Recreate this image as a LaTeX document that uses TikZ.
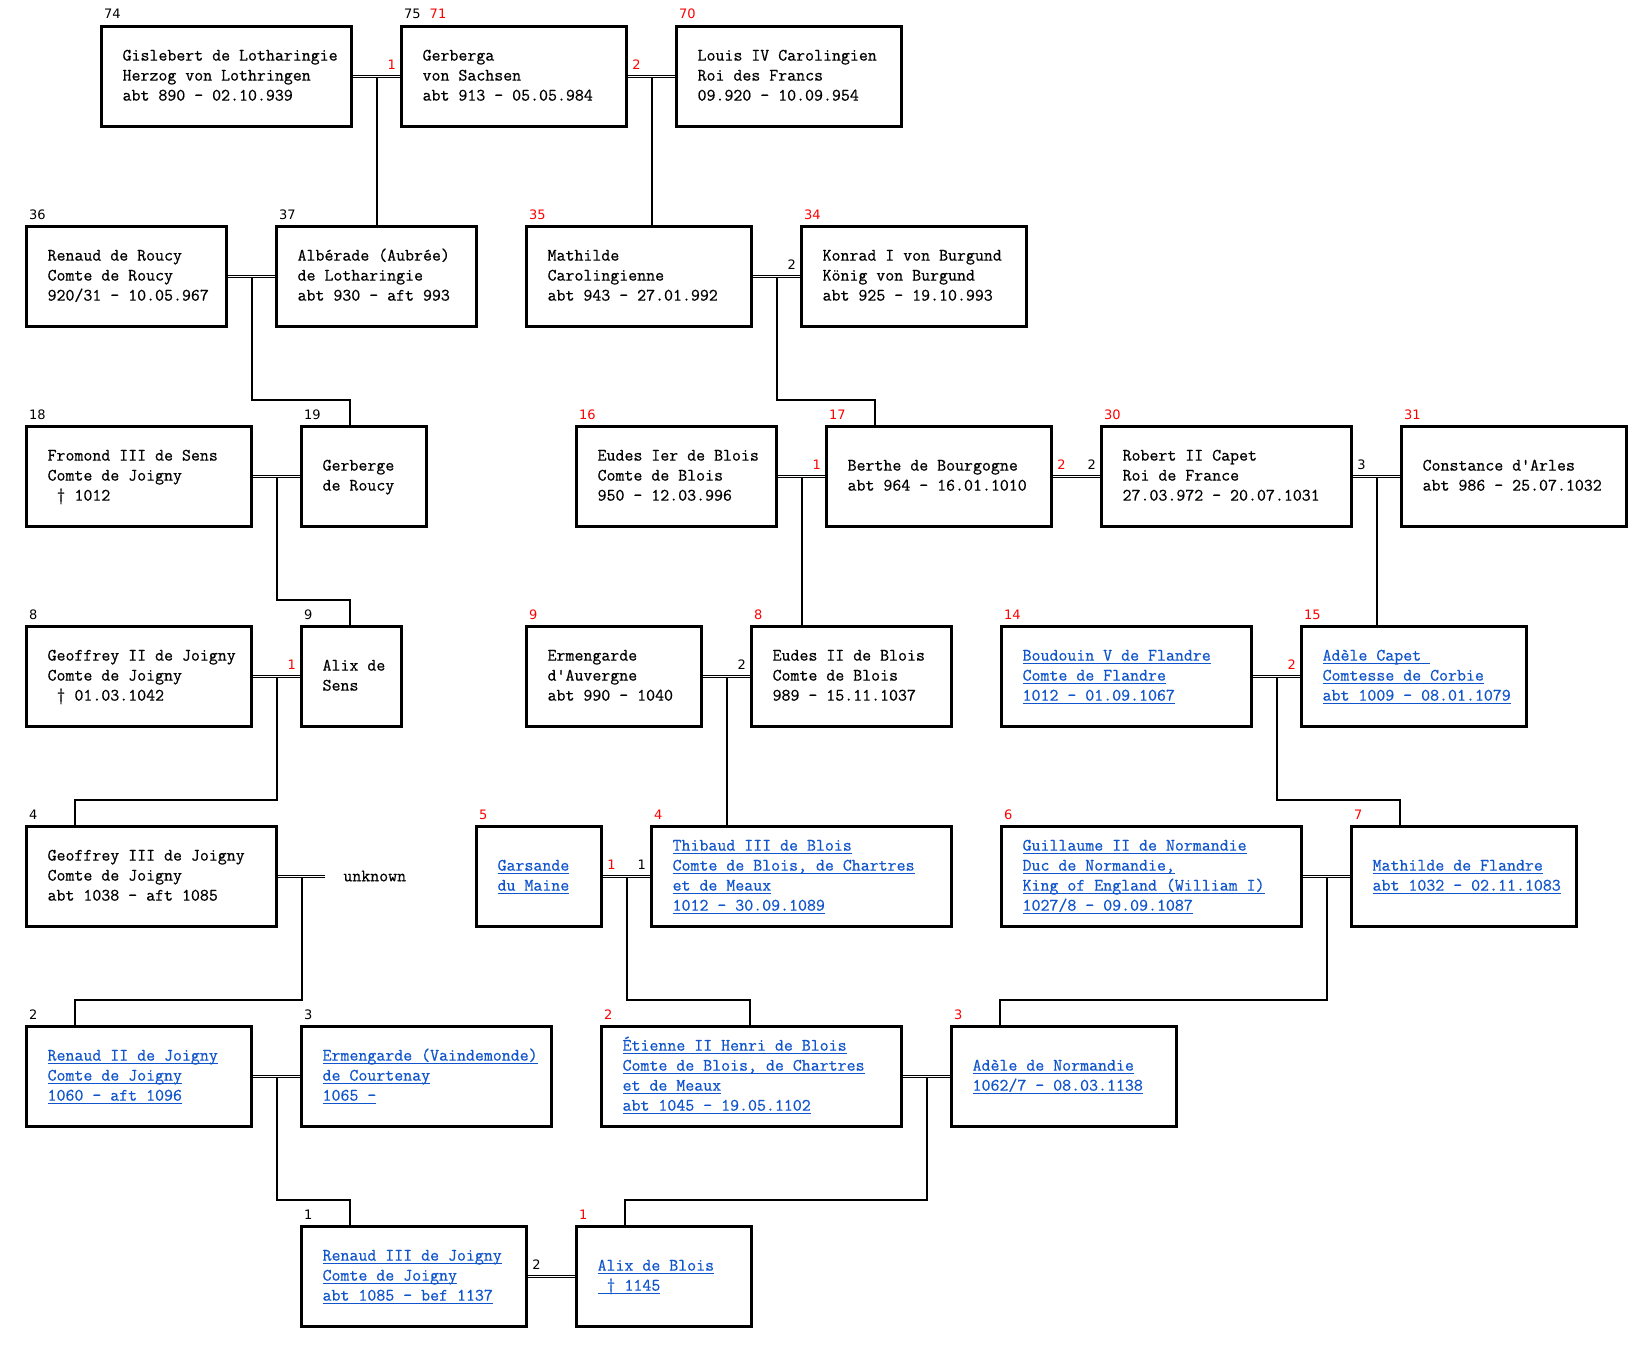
\documentclass[tikz,border=0pt]{standalone}
\usepackage{fontspec}
\newfontfamily\lblfont{DejaVu Sans}
\newfontfamily\monofam{lmmono12-regular.otf}[FakeBold=0.6]
\usetikzlibrary{calc,backgrounds}
\definecolor{lnk}{RGB}{17,85,204}
\definecolor{rd}{RGB}{255,0,0}
\newcommand\boxfont{\monofam\fontsize{17.4}{20}\selectfont}
\newsavebox\ulbox
\newcommand\lk[1]{\sbox\ulbox{\color{lnk}#1}\rlap{\color{lnk}\rule[-3.6pt]{\wd\ulbox}{1.2pt}}\usebox\ulbox}
\newcommand\bx[2]{\makebox[#1][l]{\hspace*{21pt}\begin{tabular}{@{}l@{}}#2\end{tabular}}}
\begin{document}
\begin{tikzpicture}[x=1pt,y=-1pt,
  pbox/.style={draw, line width=3.2pt, anchor=north west, inner sep=0pt, minimum height=100pt, font=\boxfont},
  glab/.style={font=\lblfont\fontsize{13}{13}\selectfont, inner sep=0pt, anchor=base west},
  mlab/.style={font=\lblfont\fontsize{13}{13}\selectfont, inner sep=0pt},
  conn/.style={line width=2pt},
  marr/.style={double, double distance=1.1pt, line width=1pt}]
\useasboundingbox (0,0) rectangle (1651,1351);
% ---------------- row 1
\node[pbox] (n74) at (100,25) {\bx{250pt}{Gislebert de Lotharingie\\Herzog von Lothringen\\abt 890 - 02.10.939}};
\node[pbox] (n75) at (400,25) {\bx{225pt}{Gerberga\\von Sachsen\\abt 913 - 05.05.984}};
\node[pbox] (n70) at (675,25) {\bx{225pt}{Louis IV Carolingien\\Roi des Francs\\09.920 - 10.09.954}};
% ---------------- row 2
\node[pbox] (n36) at (25,225) {\bx{200pt}{Renaud de Roucy\\Comte de Roucy\\920/31 - 10.05.967}};
\node[pbox] (n37) at (275,225) {\bx{200pt}{Albérade (Aubrée)\\de Lotharingie\\abt 930 - aft 993}};
\node[pbox] (n35) at (525,225) {\bx{225pt}{Mathilde\\Carolingienne\\abt 943 - 27.01.992}};
\node[pbox] (n34) at (800,225) {\bx{225pt}{Konrad I von Burgund\\König von Burgund\\abt 925 - 19.10.993}};
% ---------------- row 3
\node[pbox] (n18) at (25,425) {\bx{225pt}{Fromond III de Sens\\Comte de Joigny\\\ † 1012}};
\node[pbox] (n19) at (300,425) {\bx{125pt}{Gerberge\\de Roucy}};
\node[pbox] (n16) at (575,425) {\bx{200pt}{Eudes Ier de Blois\\Comte de Blois\\950 - 12.03.996}};
\node[pbox] (n17) at (825,425) {\bx{225pt}{Berthe de Bourgogne\\abt 964 - 16.01.1010}};
\node[pbox] (n30) at (1100,425) {\bx{250pt}{Robert II Capet\\Roi de France\\27.03.972 - 20.07.1031}};
\node[pbox] (n31) at (1400,425) {\bx{225pt}{Constance d\textquotesingle Arles\\abt 986 - 25.07.1032}};
% ---------------- row 4
\node[pbox] (n8) at (25,625) {\bx{225pt}{Geoffrey II de Joigny\\Comte de Joigny\\\ † 01.03.1042}};
\node[pbox] (n9) at (300,625) {\bx{100pt}{Alix de\\Sens}};
\node[pbox] (r9) at (525,625) {\bx{175pt}{Ermengarde\\d\textquotesingle Auvergne\\abt 990 - 1040}};
\node[pbox] (r8) at (750,625) {\bx{200pt}{Eudes II de Blois\\Comte de Blois\\989 - 15.11.1037}};
\node[pbox] (r14) at (1000,625) {\bx{250pt}{\lk{Boudouin V de Flandre}\\\lk{Comte de Flandre}\\\lk{1012 - 01.09.1067}}};
\node[pbox] (r15) at (1300,625) {\bx{225pt}{\lk{Adèle Capet\ }\\\lk{Comtesse de Corbie}\\\lk{abt 1009 - 08.01.1079}}};
% ---------------- row 5
\node[pbox] (n4) at (25,825) {\bx{250pt}{Geoffrey III de Joigny\\Comte de Joigny\\abt 1038 - aft 1085}};
\coordinate (u) at ([xshift=47pt]n4.east);
\node[font=\boxfont, inner sep=0pt, anchor=base west] (unk) at ([xshift=18pt,yshift=-4.7pt]u) {unknown};
\node[pbox] (r5) at (475,825) {\bx{125pt}{\lk{Garsande}\\\lk{du Maine}}};
\node[pbox] (r4) at (650,825) {\bx{300pt}{\lk{Thibaud III de Blois}\\\lk{Comte de Blois, de Chartres}\\\lk{et de Meaux}\\\lk{1012 - 30.09.1089}}};
\node[pbox] (r6) at (1000,825) {\bx{300pt}{\lk{Guillaume II de Normandie}\\\lk{Duc de Normandie,}\\\lk{King of England (William I)}\\\lk{1027/8 - 09.09.1087}}};
\node[pbox] (r7) at (1350,825) {\bx{225pt}{\lk{Mathilde de Flandre}\\\lk{abt 1032 - 02.11.1083}}};
% ---------------- row 6
\node[pbox] (n2) at (25,1025) {\bx{225pt}{\lk{Renaud II de Joigny}\\\lk{Comte de Joigny}\\\lk{1060 - aft 1096}}};
\node[pbox] (n3) at (300,1025) {\bx{250pt}{\lk{Ermengarde (Vaindemonde)}\\\lk{de Courtenay}\\\lk{1065 -}}};
\node[pbox] (r2) at (600,1025) {\bx{300pt}{\lk{Étienne II Henri de Blois}\\\lk{Comte de Blois, de Chartres}\\\lk{et de Meaux}\\\lk{abt 1045 - 19.05.1102}}};
\node[pbox] (r3) at (950,1025) {\bx{225pt}{\lk{Adèle de Normandie}\\\lk{1062/7 - 08.03.1138}}};
% ---------------- row 7
\node[pbox] (n1) at (300,1225) {\bx{225pt}{\lk{Renaud III de Joigny}\\\lk{Comte de Joigny}\\\lk{abt 1085 - bef 1137}}};
\node[pbox] (r1) at (575,1225) {\bx{175pt}{\lk{Alix de Blois}\\\lk{\ † 1145}}};
% ---------------- generation labels
\node[glab] (g74) at ([xshift=4pt,yshift=6pt]n74.north west) {74};
\node[glab] (g75) at ([xshift=4pt,yshift=6pt]n75.north west) {75\hspace{9pt}\textcolor{rd}{71}};
\node[glab,text=rd] (g70) at ([xshift=4pt,yshift=6pt]n70.north west) {70};
\node[glab] (g36) at ([xshift=4pt,yshift=6pt]n36.north west) {36};
\node[glab] (g37) at ([xshift=4pt,yshift=6pt]n37.north west) {37};
\node[glab,text=rd] (g35) at ([xshift=4pt,yshift=6pt]n35.north west) {35};
\node[glab,text=rd] (g34) at ([xshift=4pt,yshift=6pt]n34.north west) {34};
\node[glab] (g18) at ([xshift=4pt,yshift=6pt]n18.north west) {18};
\node[glab] (g19) at ([xshift=4pt,yshift=6pt]n19.north west) {19};
\node[glab,text=rd] (g16) at ([xshift=4pt,yshift=6pt]n16.north west) {16};
\node[glab,text=rd] (g17) at ([xshift=4pt,yshift=6pt]n17.north west) {17};
\node[glab,text=rd] (g30) at ([xshift=4pt,yshift=6pt]n30.north west) {30};
\node[glab,text=rd] (g31) at ([xshift=4pt,yshift=6pt]n31.north west) {31};
\node[glab] (g8) at ([xshift=4pt,yshift=6pt]n8.north west) {8};
\node[glab] (g9) at ([xshift=4pt,yshift=6pt]n9.north west) {9};
\node[glab,text=rd] (gr9) at ([xshift=4pt,yshift=6pt]r9.north west) {9};
\node[glab,text=rd] (gr8) at ([xshift=4pt,yshift=6pt]r8.north west) {8};
\node[glab,text=rd] (gr14) at ([xshift=4pt,yshift=6pt]r14.north west) {14};
\node[glab,text=rd] (gr15) at ([xshift=4pt,yshift=6pt]r15.north west) {15};
\node[glab] (g4) at ([xshift=4pt,yshift=6pt]n4.north west) {4};
\node[glab,text=rd] (gr5) at ([xshift=4pt,yshift=6pt]r5.north west) {5};
\node[glab,text=rd] (gr4) at ([xshift=4pt,yshift=6pt]r4.north west) {4};
\node[glab,text=rd] (gr6) at ([xshift=4pt,yshift=6pt]r6.north west) {6};
\node[glab,text=rd] (gr7) at ([xshift=4pt,yshift=6pt]r7.north west) {7};
\node[glab] (g2) at ([xshift=4pt,yshift=6pt]n2.north west) {2};
\node[glab] (g3) at ([xshift=4pt,yshift=6pt]n3.north west) {3};
\node[glab,text=rd] (gr2) at ([xshift=4pt,yshift=6pt]r2.north west) {2};
\node[glab,text=rd] (gr3) at ([xshift=4pt,yshift=6pt]r3.north west) {3};
\node[glab] (g1) at ([xshift=4pt,yshift=6pt]n1.north west) {1};
\node[glab,text=rd] (gr1) at ([xshift=4pt,yshift=6pt]r1.north west) {1};
% ---------------- marriage numbers
\node[mlab,text=rd,anchor=base east] (ma1) at ([xshift=-4pt,yshift=7pt]n75.west) {1};
\node[mlab,text=rd,anchor=base west] (ma2) at ([xshift=4pt,yshift=7pt]n75.east) {2};
\node[mlab,anchor=base east] (ma3) at ([xshift=-4pt,yshift=7pt]n34.west) {2};
\node[mlab,text=rd,anchor=base east] (ma4) at ([xshift=-4pt,yshift=7pt]n17.west) {1};
\node[mlab,text=rd,anchor=base west] (ma5) at ([xshift=4pt,yshift=7pt]n17.east) {2};
\node[mlab,anchor=base east] (ma6) at ([xshift=-4pt,yshift=7pt]n30.west) {2};
\node[mlab,anchor=base west] (ma7) at ([xshift=4pt,yshift=7pt]n30.east) {3};
\node[mlab,text=rd,anchor=base east] (ma8) at ([xshift=-4pt,yshift=7pt]n9.west) {1};
\node[mlab,anchor=base east] (ma9) at ([xshift=-4pt,yshift=7pt]r8.west) {2};
\node[mlab,text=rd,anchor=base east] (ma10) at ([xshift=-4pt,yshift=7pt]r15.west) {2};
\node[mlab,text=rd,anchor=base west] (ma11) at ([xshift=4pt,yshift=7pt]r5.east) {1};
\node[mlab,anchor=base east] (ma12) at ([xshift=-4pt,yshift=7pt]r4.west) {1};
\node[mlab,anchor=base west] (ma13) at ([xshift=4pt,yshift=7pt]n1.east) {2};
% ---------------- connectors (behind boxes)
\begin{pgfonlayer}{background}
\fill[white] (0,0) rectangle (1651,1351);
\coordinate (m1) at ($(n74.east)!0.5!(n75.west)$);
\coordinate (m2) at ($(n75.east)!0.5!(n70.west)$);
\coordinate (m3) at ($(n36.east)!0.5!(n37.west)$);
\coordinate (m4) at ($(n35.east)!0.5!(n34.west)$);
\coordinate (m5) at ($(n18.east)!0.5!(n19.west)$);
\coordinate (m6) at ($(n16.east)!0.5!(n17.west)$);
\coordinate (m7) at ($(n30.east)!0.5!(n31.west)$);
\coordinate (m8) at ($(n8.east)!0.5!(n9.west)$);
\coordinate (m9) at ($(r9.east)!0.5!(r8.west)$);
\coordinate (m10) at ($(r14.east)!0.5!(r15.west)$);
\coordinate (m11) at ($(n4.east)!0.5!(u)$);
\coordinate (m12) at ($(r5.east)!0.5!(r4.west)$);
\coordinate (m13) at ($(r6.east)!0.5!(r7.west)$);
\coordinate (m14) at ($(n2.east)!0.5!(n3.west)$);
\coordinate (m15) at ($(r2.east)!0.5!(r3.west)$);
% descenders
\draw[conn] (m1) -- (m1 |- n37.north);
\draw[conn] (m2) -- (m2 |- n35.north);
\draw[conn] (m3) |- ([xshift=50pt,yshift=25pt]n19.north west) -- ([xshift=50pt]n19.north west);
\draw[conn] (m4) |- ([xshift=50pt,yshift=25pt]n17.north west) -- ([xshift=50pt]n17.north west);
\draw[conn] (m5) |- ([xshift=50pt,yshift=25pt]n9.north west) -- ([xshift=50pt]n9.north west);
\draw[conn] (m6) -- (m6 |- r8.north);
\draw[conn] (m7) -- (m7 |- r15.north);
\draw[conn] (m8) |- ([xshift=50pt,yshift=25pt]n4.north west) -- ([xshift=50pt]n4.north west);
\draw[conn] (m9) -- (m9 |- r4.north);
\draw[conn] (m10) |- ([xshift=50pt,yshift=25pt]r7.north west) -- ([xshift=50pt]r7.north west);
\draw[conn] (m11) |- ([xshift=50pt,yshift=25pt]n2.north west) -- ([xshift=50pt]n2.north west);
\draw[conn] (m12) |- ([xshift=150pt,yshift=25pt]r2.north west) -- ([xshift=150pt]r2.north west);
\draw[conn] (m13) |- ([xshift=50pt,yshift=25pt]r3.north west) -- ([xshift=50pt]r3.north west);
\draw[conn] (m14) |- ([xshift=50pt,yshift=25pt]n1.north west) -- ([xshift=50pt]n1.north west);
\draw[conn] (m15) |- ([xshift=50pt,yshift=25pt]r1.north west) -- ([xshift=50pt]r1.north west);
% marriage double lines
\draw[marr] (n74.east) -- (n75.west);
\draw[marr] (n75.east) -- (n70.west);
\draw[marr] (n36.east) -- (n37.west);
\draw[marr] (n35.east) -- (n34.west);
\draw[marr] (n18.east) -- (n19.west);
\draw[marr] (n16.east) -- (n17.west);
\draw[marr] (n17.east) -- (n30.west);
\draw[marr] (n30.east) -- (n31.west);
\draw[marr] (n8.east) -- (n9.west);
\draw[marr] (r9.east) -- (r8.west);
\draw[marr] (r14.east) -- (r15.west);
\draw[marr] (n4.east) -- (u);
\draw[marr] (r5.east) -- (r4.west);
\draw[marr] (r6.east) -- (r7.west);
\draw[marr] (n2.east) -- (n3.west);
\draw[marr] (r2.east) -- (r3.west);
\draw[marr] (n1.east) -- (r1.west);
\end{pgfonlayer}
\end{tikzpicture}
\end{document}
